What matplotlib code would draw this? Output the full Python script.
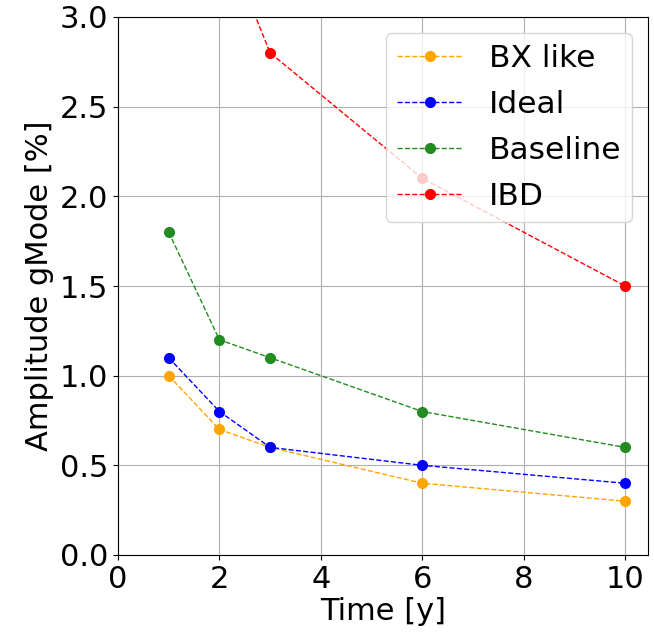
import matplotlib
matplotlib.use("Agg")
import matplotlib.pyplot as plt

time_y = [1, 2, 3, 6, 10]
bx_like = [1.0, 0.7, 0.6, 0.4, 0.3]
ideal = [1.1, 0.8, 0.6, 0.5, 0.4]
baseline = [1.8, 1.2, 1.1, 0.8, 0.6]
ibd = [5.0, 3.5, 2.8, 2.1, 1.5]

series = [
    ("BX like", bx_like, "orange"),
    ("Ideal", ideal, "blue"),
    ("Baseline", baseline, "forestgreen"),
    ("IBD", ibd, "red"),
]

fig = plt.figure(figsize=(6.54, 6.35), dpi=100)
ax = fig.add_axes([118/654, 80/635, 530/654, 538/635])

for name, vals, col in series:
    ax.plot(time_y, vals, linestyle="--", marker="o", color=col, lw=1, markersize=7, label=name)

ax.set_xlim(0, 10.45)
ax.set_ylim(0, 3.0)
ax.set_xticks([0, 2, 4, 6, 8, 10])
ax.set_yticks([0.0, 0.5, 1.0, 1.5, 2.0, 2.5, 3.0])
ax.grid(True)
ax.tick_params(labelsize=22)
ax.set_xlabel("Time [y]", fontsize=22, labelpad=2)
ax.set_ylabel("Amplitude gMode [%]", fontsize=22)
ax.legend(loc="upper right", fontsize=22.5, handlelength=2.1, borderpad=0.35,
          labelspacing=0.55, handletextpad=0.85, borderaxespad=0.5)

fig.savefig("out.png", dpi=100)
